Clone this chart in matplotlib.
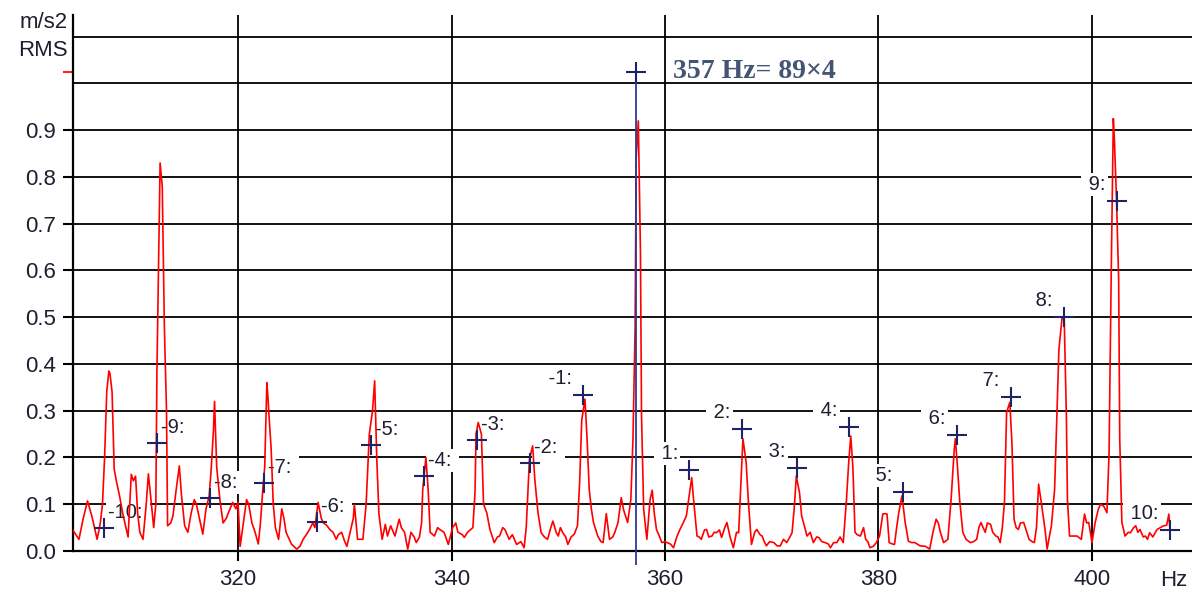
import numpy as np
import matplotlib
matplotlib.use("Agg")
import matplotlib.pyplot as plt

# spectrum (Hz, m/s2 RMS)
freq_hz = [
    304.5, 304.8, 305.1, 305.5, 305.9, 306.3, 306.8, 307.1, 307.3, 307.5, 307.7, 307.9, 308.0, 308.2, 308.4,
    308.6, 308.9, 309.2, 309.4, 309.7, 310.0, 310.2, 310.4, 310.6, 310.8, 311.1, 311.4, 311.6, 311.8, 312.1,
    312.3, 312.4, 312.6, 312.7, 312.9, 313.1, 313.3, 313.4, 313.7, 313.9, 314.2, 314.5, 314.7, 315.0, 315.3,
    315.6, 315.9, 316.1, 316.4, 316.7, 317.0, 317.3, 317.5, 317.7, 317.8, 318.0, 318.3, 318.6, 318.9, 319.1,
    319.5, 319.8, 320.0, 320.2, 320.5, 320.8, 321.0, 321.3, 321.6, 321.9, 322.1, 322.3, 322.5, 322.7, 322.8,
    322.9, 323.1, 323.3, 323.5, 323.8, 324.1, 324.3, 324.5, 325.0, 325.5, 325.8, 326.1, 326.4, 326.7, 327.0,
    327.2, 327.5, 327.8, 328.0, 328.3, 328.6, 328.9, 329.2, 329.4, 329.7, 330.0, 330.2, 330.5, 330.8, 330.9,
    331.2, 331.7, 332.0, 332.3, 332.6, 332.8, 333.0, 333.2, 333.5, 333.8, 334.0, 334.3, 334.7, 335.1, 335.3,
    335.6, 335.9, 336.2, 336.5, 336.7, 337.0, 337.2, 337.3, 337.6, 337.8, 338.0, 338.4, 338.7, 338.9, 339.3,
    339.7, 340.1, 340.4, 340.6, 341.0, 341.2, 341.5, 341.8, 342.0, 342.2, 342.3, 342.5, 342.8, 343.0, 343.3,
    343.6, 344.0, 344.3, 344.5, 344.8, 345.0, 345.4, 345.7, 346.1, 346.5, 346.8, 347.0, 347.2, 347.3, 347.6,
    347.8, 348.1, 348.4, 348.7, 349.0, 349.3, 349.5, 349.8, 350.0, 350.2, 350.4, 350.7, 350.9, 351.2, 351.5,
    351.8, 352.0, 352.2, 352.5, 352.7, 352.9, 353.1, 353.3, 353.7, 354.0, 354.2, 354.5, 354.8, 355.1, 355.3,
    355.6, 355.9, 356.1, 356.2, 356.5, 356.8, 357.0, 357.2, 357.3, 357.5, 357.7, 357.8, 358.0, 358.3, 358.6,
    358.8, 359.0, 359.2, 359.5, 359.7, 360.0, 360.2, 360.5, 360.8, 361.1, 361.4, 361.7, 362.0, 362.3, 362.5,
    362.7, 363.0, 363.2, 363.4, 363.7, 363.9, 364.1, 364.4, 364.6, 364.8, 365.1, 365.3, 365.6, 365.8, 366.1,
    366.4, 366.7, 366.9, 367.1, 367.3, 367.6, 367.8, 368.1, 368.4, 368.6, 368.9, 369.1, 369.3, 369.5, 369.8,
    370.2, 370.5, 370.8, 371.1, 371.4, 371.7, 371.9, 372.1, 372.2, 372.3, 372.6, 372.8, 373.1, 373.3, 373.6,
    373.9, 374.2, 374.4, 374.7, 375.0, 375.3, 375.5, 375.8, 376.1, 376.4, 376.7, 377.0, 377.2, 377.4, 377.6,
    377.8, 378.0, 378.3, 378.6, 378.8, 379.0, 379.2, 379.5, 379.8, 380.1, 380.4, 380.6, 380.8, 381.0, 381.3,
    381.5, 381.7, 381.9, 382.2, 382.5, 382.8, 383.1, 383.4, 383.9, 384.4, 384.8, 385.1, 385.4, 385.6, 385.8,
    386.1, 386.5, 386.8, 387.1, 387.2, 387.4, 387.6, 387.9, 388.2, 388.6, 388.9, 389.2, 389.4, 389.6, 389.8,
    390.0, 390.2, 390.5, 390.7, 391.0, 391.2, 391.4, 391.6, 391.8, 392.0, 392.3, 392.5, 392.7, 392.9, 393.1,
    393.3, 393.6, 393.9, 394.1, 394.4, 394.6, 394.8, 395.0, 395.3, 395.6, 395.8, 396.0, 396.2, 396.5, 396.7,
    396.9, 397.2, 397.4, 397.6, 397.7, 397.9, 398.2, 398.6, 399.0, 399.3, 399.5, 399.7, 400.0, 400.3, 400.6,
    400.8, 401.1, 401.4, 401.6, 401.8, 402.0, 402.1, 402.3, 402.5, 402.6, 402.8, 403.1, 403.4, 403.6, 403.9,
    404.1, 404.3, 404.5, 404.8, 405.0, 405.2, 405.4, 405.7, 406.1, 406.4, 406.7, 407.0, 407.2, 407.3,
]
rms = [
    0.046, 0.035, 0.025, 0.070, 0.107, 0.075, 0.025, 0.060, 0.100, 0.200, 0.340, 0.385, 0.380, 0.340, 0.175,
    0.150, 0.118, 0.080, 0.060, 0.030, 0.164, 0.150, 0.160, 0.080, 0.040, 0.025, 0.100, 0.165, 0.120, 0.050,
    0.100, 0.380, 0.680, 0.830, 0.780, 0.480, 0.300, 0.054, 0.060, 0.075, 0.130, 0.182, 0.120, 0.054, 0.040,
    0.080, 0.110, 0.100, 0.068, 0.036, 0.090, 0.118, 0.180, 0.260, 0.320, 0.180, 0.110, 0.060, 0.070, 0.082,
    0.104, 0.090, 0.105, 0.010, 0.060, 0.110, 0.100, 0.060, 0.040, 0.015, 0.060, 0.125, 0.180, 0.360, 0.330,
    0.290, 0.220, 0.100, 0.050, 0.025, 0.090, 0.070, 0.040, 0.015, 0.004, 0.010, 0.025, 0.035, 0.046, 0.060,
    0.050, 0.104, 0.070, 0.060, 0.055, 0.046, 0.040, 0.025, 0.035, 0.040, 0.020, 0.010, 0.040, 0.070, 0.100,
    0.025, 0.025, 0.100, 0.250, 0.300, 0.364, 0.196, 0.079, 0.025, 0.057, 0.032, 0.054, 0.032, 0.068, 0.050,
    0.040, 0.004, 0.040, 0.030, 0.018, 0.030, 0.061, 0.130, 0.200, 0.136, 0.040, 0.032, 0.050, 0.046, 0.040,
    0.014, 0.050, 0.060, 0.040, 0.035, 0.029, 0.040, 0.046, 0.050, 0.125, 0.250, 0.275, 0.250, 0.100, 0.082,
    0.046, 0.018, 0.030, 0.032, 0.050, 0.046, 0.025, 0.035, 0.014, 0.020, 0.007, 0.050, 0.146, 0.196, 0.225,
    0.154, 0.082, 0.039, 0.030, 0.025, 0.050, 0.064, 0.040, 0.032, 0.050, 0.040, 0.030, 0.014, 0.030, 0.036,
    0.054, 0.146, 0.280, 0.325, 0.240, 0.132, 0.090, 0.061, 0.032, 0.020, 0.018, 0.080, 0.025, 0.030, 0.040,
    0.061, 0.114, 0.090, 0.082, 0.061, 0.110, 0.240, 0.480, 0.840, 0.920, 0.640, 0.290, 0.089, 0.025, 0.110,
    0.130, 0.080, 0.046, 0.030, 0.018, 0.020, 0.018, 0.015, 0.007, 0.030, 0.046, 0.060, 0.075, 0.125, 0.157,
    0.104, 0.032, 0.030, 0.025, 0.045, 0.046, 0.030, 0.032, 0.040, 0.039, 0.045, 0.029, 0.050, 0.061, 0.030,
    0.007, 0.040, 0.039, 0.140, 0.240, 0.190, 0.110, 0.014, 0.040, 0.046, 0.035, 0.032, 0.020, 0.011, 0.020,
    0.018, 0.011, 0.011, 0.025, 0.018, 0.030, 0.039, 0.090, 0.125, 0.160, 0.125, 0.075, 0.050, 0.032, 0.040,
    0.018, 0.030, 0.029, 0.020, 0.018, 0.015, 0.007, 0.018, 0.018, 0.030, 0.018, 0.110, 0.186, 0.246, 0.180,
    0.040, 0.035, 0.032, 0.050, 0.025, 0.020, 0.007, 0.010, 0.018, 0.032, 0.079, 0.080, 0.079, 0.018, 0.015,
    0.014, 0.050, 0.082, 0.118, 0.061, 0.021, 0.018, 0.018, 0.011, 0.010, 0.004, 0.040, 0.068, 0.060, 0.040,
    0.018, 0.025, 0.110, 0.218, 0.240, 0.180, 0.110, 0.040, 0.025, 0.018, 0.020, 0.025, 0.050, 0.061, 0.050,
    0.040, 0.060, 0.057, 0.040, 0.032, 0.030, 0.018, 0.050, 0.104, 0.296, 0.318, 0.232, 0.068, 0.050, 0.046,
    0.060, 0.061, 0.040, 0.025, 0.020, 0.018, 0.050, 0.143, 0.096, 0.046, 0.004, 0.030, 0.054, 0.132, 0.280,
    0.430, 0.500, 0.496, 0.290, 0.110, 0.032, 0.032, 0.032, 0.025, 0.079, 0.060, 0.061, 0.018, 0.061, 0.090,
    0.100, 0.096, 0.082, 0.210, 0.590, 0.925, 0.880, 0.750, 0.580, 0.240, 0.061, 0.032, 0.040, 0.039, 0.050,
    0.054, 0.040, 0.046, 0.030, 0.032, 0.025, 0.039, 0.030, 0.046, 0.050, 0.054, 0.055, 0.079, 0.046,
]

# cursor and sideband markers
cursor_freq = 357.3
cursor_level = 1.025
cursor_text = "357 Hz= 89×4"

sb_orders = [-10, -9, -8, -7, -6, -5, -4, -3, -2, -1, 1, 2, 3, 4, 5, 6, 7, 8, 9, 10]
sb_freq = [307.45, 312.41, 317.38, 322.44, 327.40, 332.46, 337.42, 342.39, 347.35, 352.32,
           362.25, 367.21, 372.37, 377.24, 382.30, 387.35, 392.41, 397.38, 402.34, 407.31]
sb_level = [0.049, 0.231, 0.113, 0.145, 0.062, 0.227, 0.160, 0.237, 0.188, 0.334,
            0.173, 0.261, 0.178, 0.265, 0.126, 0.248, 0.329, 0.500, 0.749, 0.045]

x_ticks = [320, 340, 360, 380, 400]
y_ticks = [0.0, 0.1, 0.2, 0.3, 0.4, 0.5, 0.6, 0.7, 0.8, 0.9]
extra_grid = [1.0, 1.1]

plt.rcParams['font.family'] = ['Liberation Sans', 'DejaVu Sans']
txt_col = '#1e1e30'
marker_col = '#1c2366'

fig = plt.figure(figsize=(11.92, 5.93), dpi=100)
ax = fig.add_axes([73 / 1192, 42 / 593, 1 - 73 / 1192, 536 / 593])

ax.plot(freq_hz, rms, color='#ff0000', lw=1.2, zorder=5)

ax.set_xlim(304.54, 409.37)
ax.set_ylim(0, 1.1465)
ax.set_xticks(x_ticks)
ax.set_yticks(y_ticks)
ax.set_yticklabels(['%.1f' % v for v in y_ticks])
ax.set_yticks([cursor_level], minor=True)
ax.tick_params(which='major', direction='out', length=7, width=1.5, color='black',
               labelsize=16, labelcolor=txt_col, pad=5)
ax.tick_params(which='minor', axis='y', direction='out', length=7, width=1.5, color='#ff2020')
ax.tick_params(axis='x', pad=6)

ax.grid(True, color='black', lw=1.3, zorder=1)
for v in extra_grid:
    ax.axhline(v, color='black', lw=1.3, zorder=1)

for s in ['top', 'right']:
    ax.spines[s].set_visible(False)
for s in ['left', 'bottom']:
    ax.spines[s].set_linewidth(1.6)

# cursor
ax.vlines(cursor_freq, -0.03, cursor_level, color='#2a3a9a', lw=1.3, zorder=6, clip_on=False)
ax.plot([cursor_freq], [cursor_level], marker='+', ms=14, mew=1.5, color=marker_col, zorder=7)
ax.text(360.75, cursor_level, cursor_text, ha='left', va='center', fontsize=20,
        fontweight='bold', family=['Liberation Serif', 'DejaVu Serif'], color='#435573', zorder=7)

# sidebands
ax.plot(sb_freq, sb_level, ls='none', marker='+', ms=14, mew=1.5, color=marker_col, zorder=7)
for n, f, v in zip(sb_orders, sb_freq, sb_level):
    if n <= -2:
        off, ha = (3, 11), 'left'
    else:
        off, ha = (-8, 12), 'right'
    ax.annotate('%d: ' % n if n <= -2 else ' %d:' % n, (f, v), xytext=off, textcoords='offset points',
                ha=ha, va='center', fontsize=14.5, color=txt_col, zorder=4,
                bbox=dict(facecolor='white', edgecolor='none', pad=1.5))

fig.text(68 / 1192, 1 - 22 / 593, 'm/s2', ha='right', va='center', fontsize=16, color=txt_col)
fig.text(68 / 1192, 1 - 50 / 593, 'RMS', ha='right', va='center', fontsize=16, color=txt_col)
fig.text(1174 / 1192, 1 - 580 / 593, 'Hz', ha='center', va='center', fontsize=16, color=txt_col)

fig.savefig('out.png', dpi=100)
